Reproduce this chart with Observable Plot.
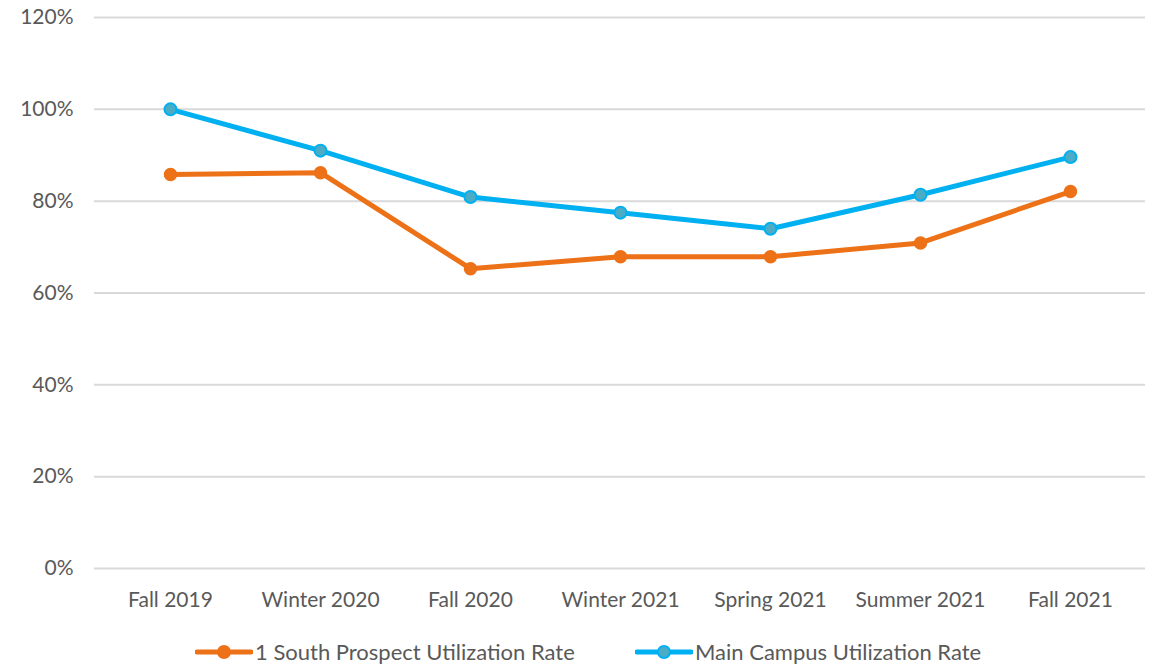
<!DOCTYPE html>
<html>
<head>
<meta charset="utf-8">
<script src="https://cdn.jsdelivr.net/npm/d3@7"></script>
<script src="https://cdn.jsdelivr.net/npm/@observablehq/plot@0.6"></script>
<style>
  html, body { margin: 0; padding: 0; background: #fff; }
  body { width: 1152px; height: 666px; overflow: hidden; font-family: Lato, "Open Sans", sans-serif; }
  #legend { height: 46px; font-size: 22px; color: #595959; position: relative; }
  .item { display: flex; align-items: center; position: absolute; }
</style>
</head>
<body>
<div id="chart"></div>
<div id="legend"></div>
<script>
const terms = ["Fall 2019", "Winter 2020", "Fall 2020", "Winter 2021", "Spring 2021", "Summer 2021", "Fall 2021"];
const southProspect = [0.858, 0.862, 0.653, 0.679, 0.679, 0.709, 0.821];
const mainCampus = [1.000, 0.910, 0.809, 0.775, 0.740, 0.814, 0.896];
const yTicks = [0, 0.2, 0.4, 0.6, 0.8, 1.0, 1.2];
const seriesNames = ["1 South Prospect Utilization Rate", "Main Campus Utilization Rate"];
const lineColors = ["#ED7117", "#00B0F0"];
const dotFills = ["#ED7117", "#4BACC6"];

const data = [];
terms.forEach((t, i) => {
  data.push({term: t, value: southProspect[i], series: seriesNames[0]});
  data.push({term: t, value: mainCampus[i], series: seriesNames[1]});
});

const fmt = d => Math.round(d * 100) + "%";
const chart = Plot.plot({
  width: 1152,
  height: 620,
  marginLeft: 94,
  marginRight: 7,
  marginTop: 17,
  marginBottom: 52,
  style: {fontFamily: "Lato, 'Open Sans', sans-serif", fontSize: "21px", color: "#595959", background: "#fff"},
  x: {type: "point", domain: terms, padding: 0.5, label: null},
  y: {domain: [0, 1.2], label: null},
  color: {domain: seriesNames, range: lineColors},
  marks: [
    Plot.gridY(yTicks, {stroke: "#d9d9d9", strokeOpacity: 1, strokeWidth: 2}),
    Plot.axisX({tickSize: 0, tickPadding: 24, fontSize: 21, fill: "#595959"}),
    Plot.axisY(yTicks, {tickSize: 0, tickPadding: 21, fontSize: 21, fill: "#595959", tickFormat: fmt}),
    Plot.lineY(data, {x: "term", y: "value", z: "series", stroke: "series", strokeWidth: 5}),
    Plot.dot(data.filter(d => d.series === seriesNames[0]), {x: "term", y: "value", r: 6, fill: dotFills[0], stroke: lineColors[0], strokeWidth: 1.5}),
    Plot.dot(data.filter(d => d.series === seriesNames[1]), {x: "term", y: "value", r: 6, fill: dotFills[1], stroke: lineColors[1], strokeWidth: 2})
  ]
});
document.getElementById("chart").appendChild(chart);

const legend = document.getElementById("legend");
const lefts = [195, 635];
seriesNames.forEach((name, i) => {
  const item = document.createElement("div");
  item.className = "item";
  item.style.left = lefts[i] + "px";
  item.style.top = "18px";
  item.innerHTML = `<svg width="58" height="16" style="margin-right:2px"><line x1="2" x2="56" y1="8" y2="8" stroke="${lineColors[i]}" stroke-width="5" stroke-linecap="round"/><circle cx="29" cy="8" r="6" fill="${dotFills[i]}" stroke="${lineColors[i]}" stroke-width="2"/></svg><span>${name}</span>`;
  legend.appendChild(item);
});
</script>
</body>
</html>
